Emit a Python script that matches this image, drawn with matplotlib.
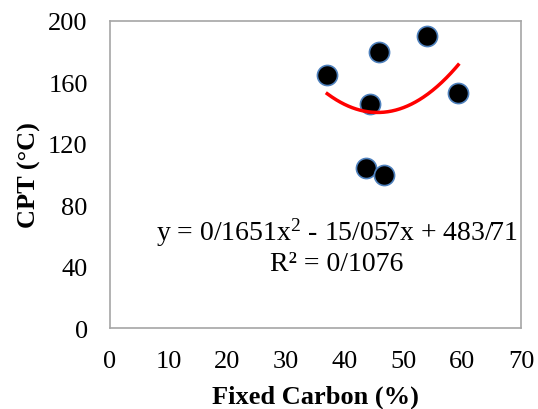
import numpy as np
import matplotlib.pyplot as plt

plt.rcParams['font.family'] = ['Liberation Serif', 'DejaVu Serif']
plt.rcParams['mathtext.fontset'] = 'custom'
plt.rcParams['mathtext.rm'] = 'Liberation Serif'
plt.rcParams['mathtext.it'] = 'Liberation Serif'

# Data
fixed_carbon = [37.0, 45.8, 54.0, 44.3, 59.3, 43.6, 46.7]
cpt = [164.5, 179.5, 190.0, 146.0, 153.0, 104.5, 100.0]

# Polynomial trendline coefficients (as shown in the chart)
coef = [0.1651, -15.057, 483.71]
eq_text = "y = 0/1651x$^{\\mathrm{2}}$ - 15/057x + 483/71\nR² = 0/1076"

fig = plt.figure(figsize=(5.38, 4.10), dpi=100)
ax = fig.add_axes([110 / 538, 1 - 329 / 410, 411 / 538, 307 / 410])

ax.scatter(fixed_carbon, cpt, s=210, c='black', edgecolors='#4f81bd',
           linewidths=1.2, zorder=3)

xs = np.linspace(min(fixed_carbon), max(fixed_carbon), 200)
ax.plot(xs, np.polyval(coef, xs), color='red', lw=2.5, zorder=4)

ax.text(38.6, 53.5, eq_text, ha='center', va='center', fontsize=20,
        linespacing=1.15)

ax.set_xlim(0, 70)
ax.set_ylim(0, 200)
ax.set_xticks(range(0, 71, 10))
ax.set_yticks(range(0, 201, 40))
ax.tick_params(axis='x', labelsize=19, length=0, pad=16)
ax.tick_params(axis='y', labelsize=19, length=0, pad=16)
for s in ax.spines.values():
    s.set_color('#a6a6a6')
    s.set_linewidth(1.2)

ax.set_xlabel("Fixed Carbon (%)", fontsize=19, fontweight='bold')
ax.set_ylabel("CPT (°C)", fontsize=19, fontweight='bold')
ax.xaxis.set_label_coords(0.5, -0.185)
ax.yaxis.set_label_coords(-0.168, 0.5)

plt.savefig('out.png', dpi=100)
